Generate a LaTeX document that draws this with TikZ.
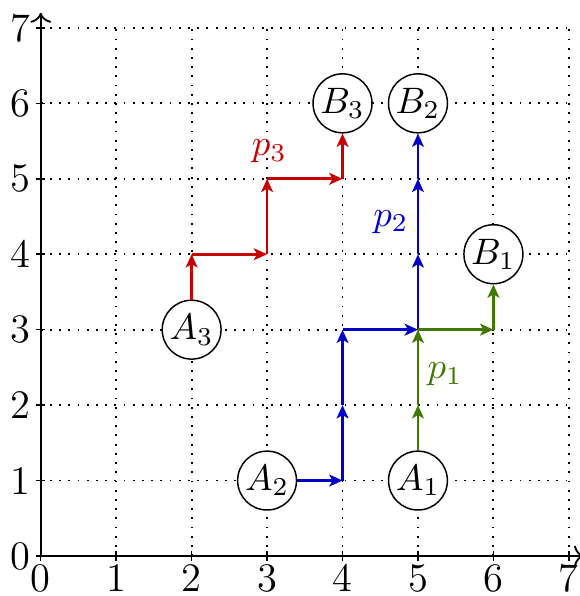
\documentclass[tikz,border=0pt]{standalone}
\usetikzlibrary{arrows.meta}
\definecolor{pred}{RGB}{200,0,0}
\definecolor{pblue}{RGB}{0,0,200}
\definecolor{pgreen}{RGB}{64,120,0}
\tikzset{
  pt/.style={circle,draw=black,fill=white,inner sep=0.5pt,minimum size=14.8pt,font=\normalsize},
  seg/.style={line width=0.7pt,-{Stealth[length=3.6pt,width=3.2pt,inset=0.9pt]}},
  tick/.style={inner sep=1pt,font=\fontsize{11}{13}\selectfont},
  plab/.style={inner sep=0pt,font=\normalsize}
}
\begin{document}
\begin{tikzpicture}[x=0.72cm,y=0.72cm]
\useasboundingbox (-0.54,-0.53) rectangle (7.14,7.37);
\foreach \i in {1,...,7}{
  \draw[dotted,line width=0.5pt] (\i,0) -- (\i,7);
  \draw[dotted,line width=0.5pt] (0,\i) -- (7,\i);
}
\draw[line width=0.5pt,->] (0,0) -- (7.2,0);
\draw[line width=0.5pt,->] (0,0) -- (0,7.2);
\foreach \i in {0,...,7}{
  \draw[line width=0.4pt] (\i,0.06) -- (\i,-0.06);
  \draw[line width=0.4pt] (0.06,\i) -- (-0.06,\i);
  \node[tick,anchor=north] (xl\i) at (\i,-0.05) {\i};
  \node[tick,anchor=east] (yl\i) at (-0.08,\i) {\i};
}
% nodes
\node[pt] (A1) at (5,1) {$A_1$};
\node[pt] (A2) at (3,1) {$A_2$};
\node[pt] (A3) at (2,3) {$A_3$};
\node[pt] (B1) at (6,4) {$B_1$};
\node[pt] (B2) at (5,6) {$B_2$};
\node[pt] (B3) at (4,6) {$B_3$};
% coordinates
\coordinate (c52) at (5,2);
\coordinate (c53) at (5,3);
\coordinate (c63) at (6,3);
\coordinate (c41) at (4,1);
\coordinate (c42) at (4,2);
\coordinate (c43) at (4,3);
\coordinate (c54) at (5,4);
\coordinate (c55) at (5,5);
\coordinate (c24) at (2,4);
\coordinate (c34) at (3,4);
\coordinate (c35) at (3,5);
\coordinate (c45) at (4,5);
% p2 blue
\begin{scope}[pblue]
\draw[seg] (A2) -- (c41);
\draw[seg] (c41) -- (c42);
\draw[seg] (c42) -- (c43);
\draw[seg] (c43) -- (c53);
\draw[seg] (c53) -- (c54);
\draw[seg] (c54) -- (c55);
\draw[seg] (c55) -- (B2);
\end{scope}
% p1 green
\begin{scope}[pgreen]
\draw[seg] (A1) -- (c52);
\draw[seg] (c52) -- (c53);
\draw[seg] (c53) -- (c63);
\draw[seg] (c63) -- (B1);
\end{scope}
% p3 red
\begin{scope}[pred]
\draw[seg] (A3) -- (c24);
\draw[seg] (c24) -- (c34);
\draw[seg] (c34) -- (c35);
\draw[seg] (c35) -- (c45);
\draw[seg] (c45) -- (B3);
\end{scope}
\node[plab,text=pgreen] (p1) at (5.36,2.41) {$p_1$};
\node[plab,text=pblue] (p2) at (4.64,4.43) {$p_2$};
\node[plab,text=pred] (p3) at (3.03,5.36) {$p_3$};
\end{tikzpicture}
\end{document}
